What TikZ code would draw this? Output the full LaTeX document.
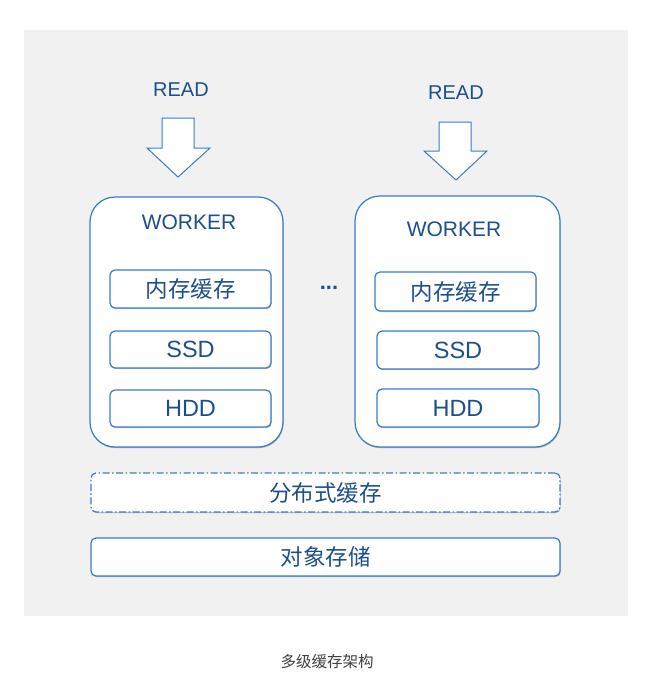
\documentclass[tikz,border=0pt]{standalone}
\usepackage{fontspec}
\setmainfont{Liberation Sans}
\newfontfamily\cjk{Noto Sans CJK SC}
\usetikzlibrary{shadows}

\definecolor{boxblue}{HTML}{3A7BC8}
\definecolor{txtblue}{HTML}{1D4F8C}
\definecolor{panelgray}{HTML}{F1F1F1}

\tikzset{
  softshadow/.style={drop shadow={shadow xshift=0.6pt, shadow yshift=-1.2pt, opacity=0.25, fill=black}},
  workerbox/.style={draw=boxblue, fill=white, line width=1.2pt, rounded corners=25pt, softshadow},
  cachebox/.style={draw=boxblue, fill=white, line width=1.2pt, rounded corners=5pt, softshadow,
    inner sep=0pt, text=txtblue},
  readarrow/.style={draw=boxblue, fill=white, line width=1pt, line join=miter},
  lbl/.style={text=txtblue, inner sep=0pt}
}

\begin{document}
\begin{tikzpicture}[x=1pt,y=-1pt]
\useasboundingbox[fill=white] (0,0) rectangle (648,678);
\fill[panelgray] (24,30) rectangle (628,616);

% read arrows
\node[lbl, font=\fontsize{20}{22}\selectfont] (r1) at (181,90) {READ};
\node[lbl, font=\fontsize{20}{22}\selectfont] (r2) at (456,93) {READ};
\draw[readarrow] (162,118)--(194,118)--(194,148)--(210,148)--(178,177)--(147,148)--(162,148)--cycle;
\draw[readarrow] (439,122)--(471,122)--(471,151)--(487,151)--(456,180)--(424,151)--(439,151)--cycle;

% workers
\node[workerbox, minimum width=193, minimum height=250] (w1) at (186.5,322) {};
\node[workerbox, minimum width=205, minimum height=251] (w2) at (457.5,321.5) {};
\node[lbl, font=\fontsize{21}{23}\selectfont] (w1t) at (189,222) {WORKER};
\node[lbl, font=\fontsize{21}{23}\selectfont] (w2t) at (454,229) {WORKER};

\node[cachebox, minimum width=161, minimum height=38, font=\cjk\fontsize{22.5}{24}\selectfont] (m1) at (190.5,289) {内存缓存};
\node[cachebox, minimum width=161, minimum height=37, font=\fontsize{23.5}{25}\selectfont] (s1) at (190.5,349.5) {SSD};
\node[cachebox, minimum width=161, minimum height=37, font=\fontsize{23.5}{25}\selectfont] (h1) at (190.5,408.5) {HDD};

\node[cachebox, minimum width=161, minimum height=39, font=\cjk\fontsize{22.5}{24}\selectfont] (m2) at (455.5,291.5) {内存缓存};
\node[cachebox, minimum width=162, minimum height=38, font=\fontsize{23.5}{25}\selectfont] (s2) at (458,350) {SSD};
\node[cachebox, minimum width=162, minimum height=38, font=\fontsize{23.5}{25}\selectfont] (h2) at (458,408) {HDD};

\node[lbl, font=\bfseries\fontsize{22}{24}\selectfont] (dots) at (329,288) {...};

% shared layers
\node[cachebox, dash pattern=on 7pt off 2.5pt on 1.5pt off 2.5pt, minimum width=469, minimum height=39,
  font=\cjk\fontsize{22.5}{24}\selectfont] (dist) at (325.5,492.5) {分布式缓存};
\node[cachebox, minimum width=469, minimum height=38, font=\cjk\fontsize{22.5}{24}\selectfont] (obj) at (325.5,557) {对象存储};

\node[text=black!75, inner sep=0pt, font=\cjk\fontsize{15.5}{17}\selectfont] (cap) at (327,662) {多级缓存架构};
\end{tikzpicture}
\end{document}
